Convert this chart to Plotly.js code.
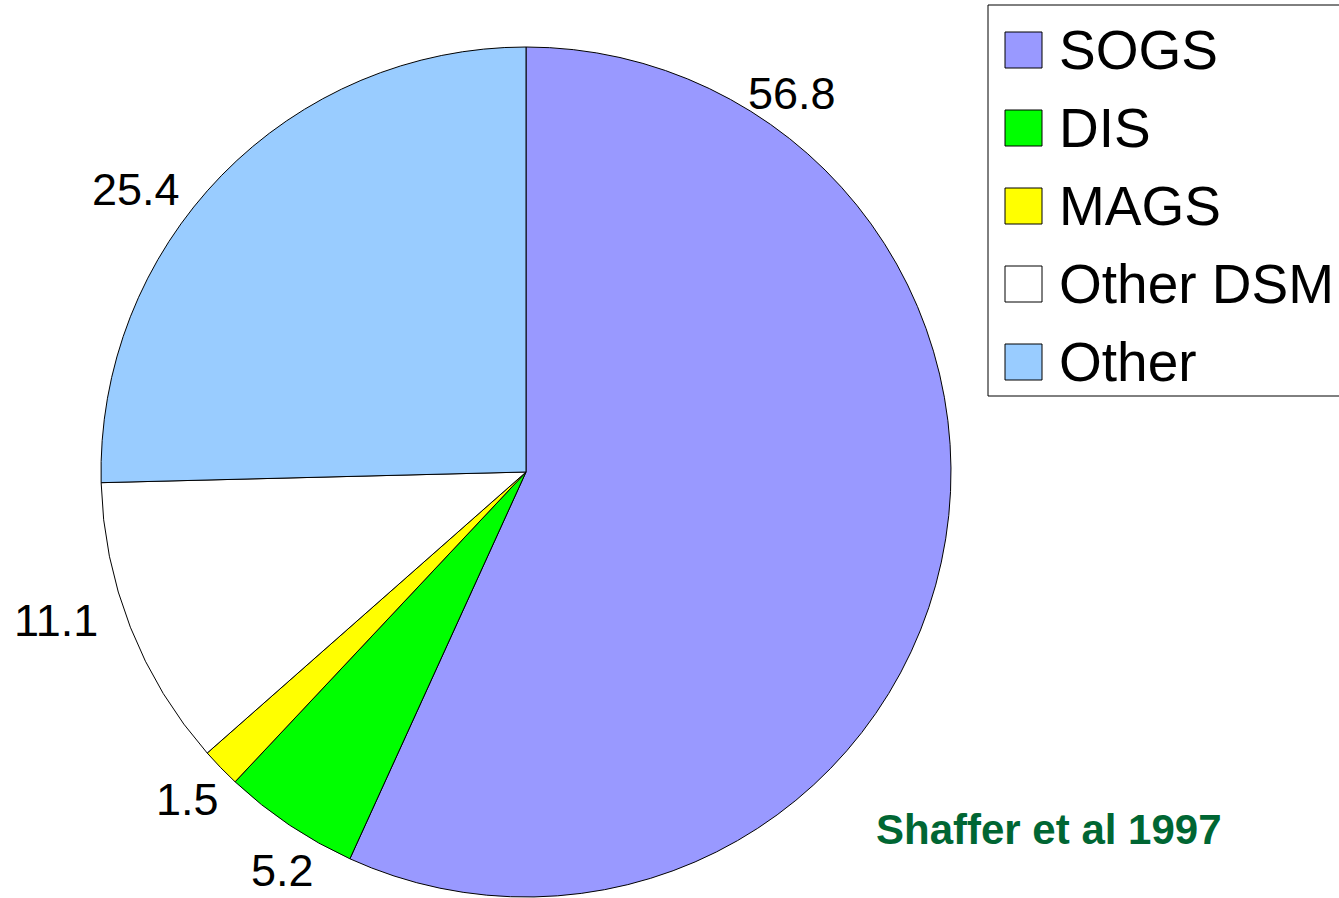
<!DOCTYPE html>
<html>
<head>
<meta charset="utf-8">
<script src="https://cdn.plot.ly/plotly-3.0.1.min.js"></script>
<style>html,body{margin:0;padding:0;background:#fff;}#chart{width:1339px;height:898px;}</style>
</head>
<body>
<div id="chart"></div>
<script>
// ---- data ----
const categories = ["SOGS", "DIS", "MAGS", "Other DSM", "Other"];
const values = [56.8, 5.2, 1.5, 11.1, 25.4];
const colors = ["#9999FF", "#00FF00", "#FFFF00", "#FFFFFF", "#99CCFF"];
const sourceNote = "Shaffer et al 1997";

// ---- layout helpers (positions, not data) ----
const W = 1339, H = 898;
const px = x => x / W;
const py = y => 1 - y / H;
// value label positions (pixels, centre), same order as categories
const labelPos = [[792, 93], [282, 873], [187, 799], [56, 620], [136, 189]];

const FONT = "Liberation Sans, Arial, sans-serif";

const trace = {
  type: "pie",
  labels: categories,
  values: values,
  sort: false,
  direction: "clockwise",
  rotation: 0,
  marker: { colors: colors, line: { color: "#000000", width: 1 } },
  textinfo: "none",
  hoverinfo: "label+value",
  showlegend: false,
  domain: { x: [px(101), px(951)], y: [py(897), py(47)] }
};

const annotations = [];
const shapes = [];

values.forEach((v, i) => {
  const bottomEdge = labelPos[i][1] > 860;
  annotations.push({
    xref: "paper", yref: "paper",
    x: px(labelPos[i][0]), y: bottomEdge ? 0 : py(labelPos[i][1]),
    xanchor: "center", yanchor: bottomEdge ? "bottom" : "middle",
    text: String(v), showarrow: false,
    font: { family: FONT, size: 45, color: "#000000" }
  });
});

// legend box
shapes.push({
  type: "rect", xref: "paper", yref: "paper",
  x0: px(988), x1: px(1345), y0: py(396), y1: py(5),
  line: { color: "#000000", width: 1 }, fillcolor: "rgba(0,0,0,0)"
});
categories.forEach((c, i) => {
  const cy = 50 + i * 78;
  shapes.push({
    type: "rect", xref: "paper", yref: "paper",
    x0: px(1005), x1: px(1042), y0: py(cy + 18), y1: py(cy - 18),
    line: { color: "#000000", width: 1 }, fillcolor: colors[i]
  });
  annotations.push({
    xref: "paper", yref: "paper",
    x: px(1057), y: py(cy),
    xanchor: "left", yanchor: "middle",
    text: c, showarrow: false,
    font: { family: FONT, size: 55, color: "#000000" }
  });
});

annotations.push({
  xref: "paper", yref: "paper",
  x: px(1049), y: py(829),
  xanchor: "center", yanchor: "middle",
  text: "<b>" + sourceNote + "</b>", showarrow: false,
  font: { family: FONT, size: 42, color: "#006633" }
});

const layout = {
  width: W, height: H,
  margin: { l: 0, r: 0, t: 0, b: 0 },
  paper_bgcolor: "#ffffff",
  plot_bgcolor: "#ffffff",
  showlegend: false,
  annotations: annotations,
  shapes: shapes
};

Plotly.newPlot("chart", [trace], layout, { displayModeBar: false, staticPlot: true });
</script>
</body>
</html>
